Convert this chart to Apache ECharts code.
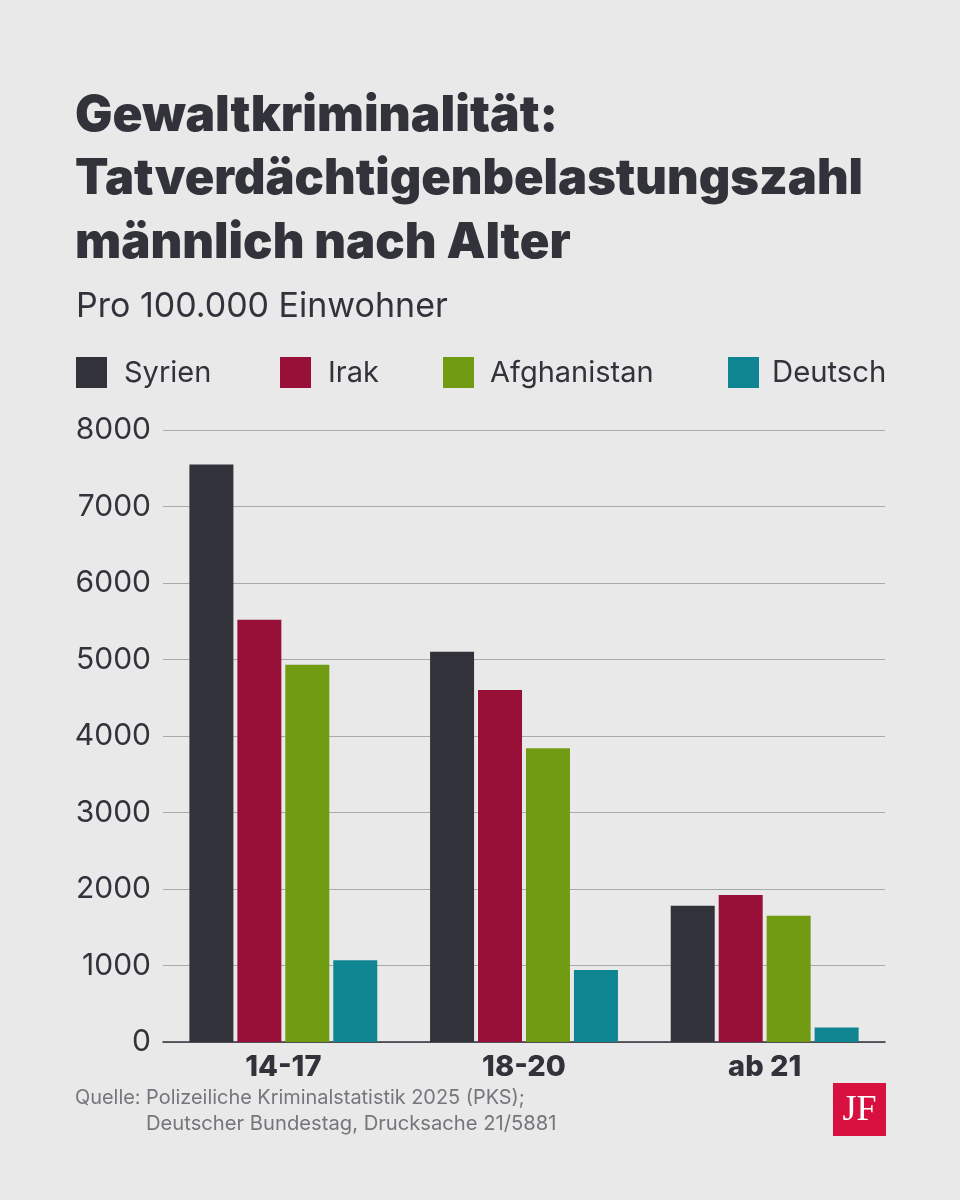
<!DOCTYPE html>
<html><head><meta charset="utf-8">
<style>html,body{margin:0;padding:0;background:#e9e9e9}#c{width:960px;height:1200px}</style>
<script src="https://cdn.jsdelivr.net/npm/echarts@6/dist/echarts.min.js"></script></head>
<body><div id="c"></div>
<script>
const categories = ['14-17','18-20','ab 21'];
const syrien = [7550,5100,1780];
const irak = [5520,4600,1920];
const afghanistan = [4930,3840,1650];
const deutsch = [1070,940,190];
const yTicks = [0,1000,2000,3000,4000,5000,6000,7000,8000];
const titleLines = ['Gewaltkriminalität:','Tatverdächtigenbelastungszahl','männlich nach Alter'];
const titleSizes = [49.7,48.8,49];
const font = 'Inter';
const ink = '#32323a';
const chart = echarts.init(document.getElementById('c'), null, {renderer:'canvas'});
const mk = (name,data,color)=>({name,type:'bar',data,barWidth:44,barGap:'9%',itemStyle:{color}});
const T = (x,y,text,size,weight,fill,extra)=>({type:'text',x,y,style:Object.assign({text,font:`${weight} ${size}px ${font}`,fill},extra||{})});
chart.setOption({
  backgroundColor:'#e9e9e9',
  animation:false,
  textStyle:{fontFamily:font},
  grid:{left:163,right:75,top:430,height:612,containLabel:false},
  legend:{show:false},
  xAxis:{type:'category',data:categories,axisTick:{show:false},
    axisLine:{lineStyle:{color:'#32323a',width:1.5}},
    axisLabel:{color:ink,fontFamily:font,fontWeight:800,fontSize:29,margin:11}},
  yAxis:{type:'value',min:0,max:8000,interval:1000,
    axisLine:{show:false},axisTick:{show:false},
    splitLine:{lineStyle:{color:'#a9a9a9',width:1}},
    axisLabel:{color:ink,fontFamily:font,fontSize:30,margin:12,
      formatter:v=>String(v),customValues:yTicks}},
  series:[mk('Syrien',syrien,'#32323a'),mk('Irak',irak,'#981038'),mk('Afghanistan',afghanistan,'#729b14'),mk('Deutsch',deutsch,'#0f8592')],
  graphic:{elements:[
    ...titleLines.map((t,i)=>T(75,91+i*64,t,titleSizes[i],900,ink)),
    T(76,290,'Pro 100.000 Einwohner',34,400,ink),
    {type:'rect',shape:{x:76,y:357,width:31,height:31},style:{fill:'#32323a'}},
    T(124,359,'Syrien',29,400,ink),
    {type:'rect',shape:{x:280,y:357,width:31,height:31},style:{fill:'#981038'}},
    T(328,359,'Irak',29,400,ink),
    {type:'rect',shape:{x:443,y:357,width:31,height:31},style:{fill:'#729b14'}},
    T(490,359,'Afghanistan',29,400,ink),
    {type:'rect',shape:{x:728,y:357,width:31,height:31},style:{fill:'#0f8592'}},
    T(772,359,'Deutsch',29.3,400,ink),
    T(75,1088,'Quelle: Polizeiliche Kriminalstatistik 2025 (PKS);',19.9,400,'#75757b'),
    T(146,1114,'Deutscher Bundestag, Drucksache 21/5881',20.2,400,'#75757b'),
    {type:'rect',shape:{x:833,y:1083,width:53,height:53},style:{fill:'#d8103f'}},
    {type:'text',x:859.5,y:1111,style:{text:'JF',font:'400 36px "Liberation Serif"',fill:'#ffffff',align:'center',verticalAlign:'middle'}}
  ]}
});
</script></body></html>
